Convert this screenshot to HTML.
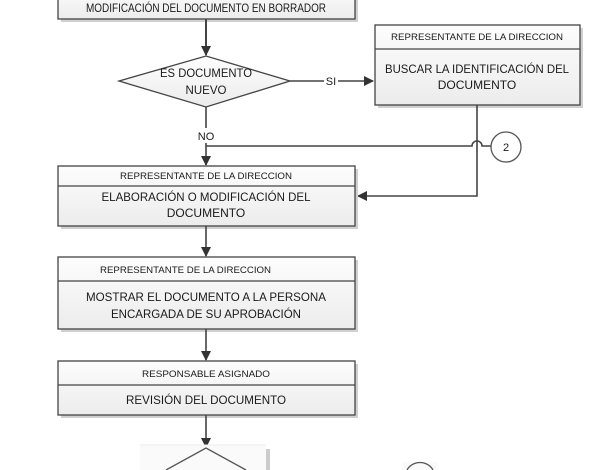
<!DOCTYPE html>
<html><head><meta charset="utf-8"><style>
html,body{margin:0;padding:0;background:#fff;width:600px;height:470px;overflow:hidden;}
svg{display:block;}
text{font-family:"Liberation Sans",sans-serif;fill:#1a1a1a;}
</style></head><body>
<svg width="600" height="470" viewBox="0 0 600 470" xmlns="http://www.w3.org/2000/svg" style="overflow:hidden">
<defs>
<linearGradient id="g" x1="0" y1="0" x2="0" y2="1"><stop offset="0" stop-color="#fdfdfd"/><stop offset="1" stop-color="#ececec"/></linearGradient>
<marker id="a" markerWidth="10" markerHeight="10" refX="9" refY="5" orient="auto" markerUnits="userSpaceOnUse"><path d="M0,0 L10,5 L0,10 z" fill="#333"/></marker>
</defs>
<g stroke="#444" stroke-width="1.3" fill="none">
<rect x="61" y="-10" width="297" height="32" fill="#d0d0d0" stroke="none"/>
<rect x="58" y="-13" width="297" height="32" fill="url(#g)"/>
<line x1="206" y1="19" x2="206" y2="55" marker-end="url(#a)" stroke-width="2"/>
<polygon points="119,81 206,56 290,81 206,107" fill="url(#g)"/>
<line x1="290" y1="81" x2="373" y2="81" marker-end="url(#a)" stroke-width="1.6"/>
<rect x="378" y="28" width="205" height="80" fill="#d0d0d0" stroke="none"/>
<rect x="375" y="25" width="205" height="80" fill="url(#g)"/>
<line x1="375" y1="49" x2="580" y2="49"/>
<line x1="206" y1="107" x2="206" y2="128" stroke-width="1.6"/>
<line x1="206" y1="143" x2="206" y2="165" marker-end="url(#a)" stroke-width="1.6"/>
<path d="M206,146 L472,146 A5,5 0 0 1 482,146 L491,146" stroke-width="1.6"/>
<circle cx="506" cy="147" r="15" fill="#fff" stroke="#555"/>
<path d="M477,105 L477,196 L358,196" marker-end="url(#a)" stroke-width="1.6"/>
<rect x="61" y="169" width="297" height="60" fill="#d0d0d0" stroke="none"/>
<rect x="58" y="166" width="297" height="60" fill="url(#g)"/>
<line x1="58" y1="186" x2="355" y2="186"/>
<line x1="206" y1="226" x2="206" y2="256" marker-end="url(#a)" stroke-width="1.6"/>
<rect x="61" y="260" width="297" height="72" fill="#d0d0d0" stroke="none"/>
<rect x="58" y="257" width="297" height="72" fill="url(#g)"/>
<line x1="58" y1="281" x2="355" y2="281"/>
<line x1="206" y1="329" x2="206" y2="360" marker-end="url(#a)" stroke-width="1.6"/>
<rect x="61" y="364" width="297" height="54" fill="#d0d0d0" stroke="none"/>
<rect x="58" y="361" width="297" height="54" fill="url(#g)"/>
<line x1="58" y1="385" x2="355" y2="385"/>
<line x1="206" y1="415" x2="206" y2="447" marker-end="url(#a)" stroke-width="1.6"/>
<rect x="266" y="449" width="4" height="21" fill="#ccc" stroke="none"/>
<rect x="140" y="445" width="126" height="25" fill="#fafafa" stroke="none"/>
<line x1="140" y1="445" x2="266" y2="445" stroke="#eee" stroke-width="1"/>
<polyline points="166,470 206,448 246,470" stroke="#555"/>
<rect x="402" y="462" width="36" height="8" fill="#fafafa" stroke="none"/>
<path d="M407,470 A15,15 0 0 1 433,470" stroke="#555"/>
</g>
<text x="206" y="12" font-size="12" text-anchor="middle" textLength="240" lengthAdjust="spacingAndGlyphs">MODIFICACIÓN DEL DOCUMENTO EN BORRADOR</text>
<text x="206" y="77" font-size="11.5" text-anchor="middle" textLength="92" lengthAdjust="spacingAndGlyphs">ES DOCUMENTO</text>
<text x="206" y="94" font-size="11.5" text-anchor="middle">NUEVO</text>
<rect x="324" y="74" width="14" height="14" fill="#fff"/>
<text x="331" y="85" font-size="11" text-anchor="middle">SI</text>
<text x="477" y="40" font-size="9.5" text-anchor="middle" textLength="172" lengthAdjust="spacingAndGlyphs">REPRESENTANTE DE LA DIRECCION</text>
<text x="477" y="73" font-size="12" text-anchor="middle" textLength="184" lengthAdjust="spacingAndGlyphs">BUSCAR LA IDENTIFICACIÓN DEL</text>
<text x="477" y="89" font-size="12" text-anchor="middle">DOCUMENTO</text>
<text x="206" y="140" font-size="11" text-anchor="middle">NO</text>
<text x="506" y="151" font-size="11" text-anchor="middle">2</text>
<text x="206" y="179" font-size="9.5" text-anchor="middle" textLength="172" lengthAdjust="spacingAndGlyphs">REPRESENTANTE DE LA DIRECCION</text>
<text x="206" y="201" font-size="12" text-anchor="middle" textLength="209" lengthAdjust="spacingAndGlyphs">ELABORACIÓN O MODIFICACIÓN DEL</text>
<text x="206" y="217" font-size="12" text-anchor="middle">DOCUMENTO</text>
<text x="100" y="273" font-size="9.5" textLength="171" lengthAdjust="spacingAndGlyphs">REPRESENTANTE DE LA DIRECCION</text>
<text x="206" y="301" font-size="12" text-anchor="middle" textLength="240" lengthAdjust="spacingAndGlyphs">MOSTRAR EL DOCUMENTO A LA PERSONA</text>
<text x="206" y="318" font-size="12" text-anchor="middle" textLength="190" lengthAdjust="spacingAndGlyphs">ENCARGADA DE SU APROBACIÓN</text>
<text x="206" y="377" font-size="9.5" text-anchor="middle" textLength="128" lengthAdjust="spacingAndGlyphs">RESPONSABLE ASIGNADO</text>
<text x="206" y="404" font-size="12" text-anchor="middle" textLength="160" lengthAdjust="spacingAndGlyphs">REVISIÓN DEL DOCUMENTO</text>
</svg>
</body></html>
